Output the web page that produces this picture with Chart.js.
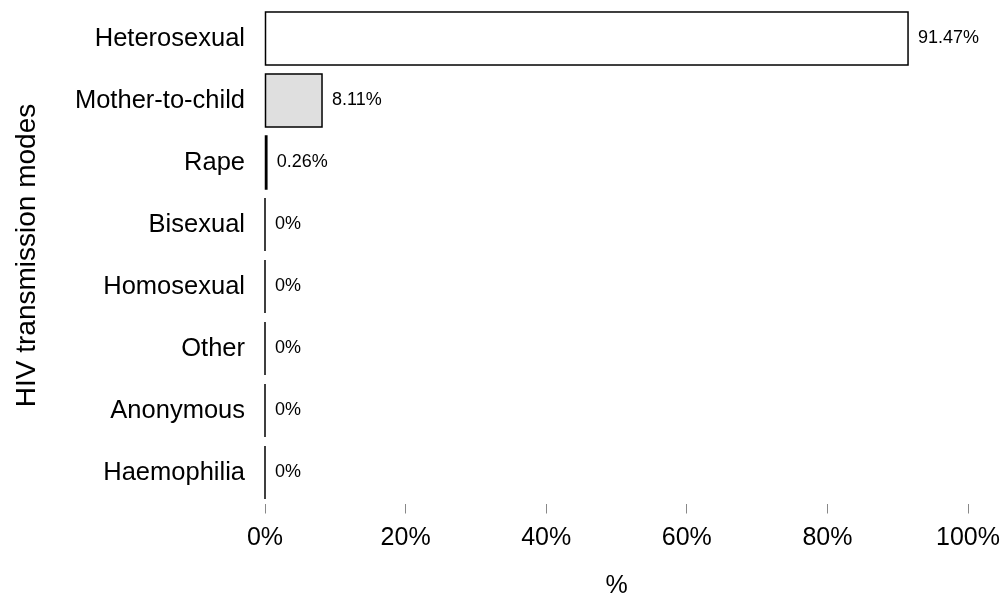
<!DOCTYPE html>
<html>
<head>
<meta charset="utf-8">
<script src="https://cdn.jsdelivr.net/npm/chart.js@4/dist/chart.umd.min.js"></script>
<style>
  html, body { margin: 0; padding: 0; background: #fff; }
  #wrap { width: 1003px; height: 594px; }
</style>
</head>
<body>
<div id="wrap"><canvas id="modesChart"></canvas></div>
<script>
// Modes de transmission et part des cas (%)
const modes = ['Heterosexual', 'Mother-to-child', 'Rape', 'Bisexual', 'Homosexual', 'Other', 'Anonymous', 'Haemophilia'];
const shares = [91.47, 8.11, 0.26, 0, 0, 0, 0, 0];
const fills = ['#ffffff', '#dfdfdf', '#2e2e2e', '#1a1a1a', '#1a1a1a', '#1a1a1a', '#1a1a1a', '#1a1a1a'];
const xTicks = [0, 20, 40, 60, 80, 100];

const FONT = "'Liberation Sans', Arial, sans-serif";

// contour noir de chaque barre, même quand la valeur vaut 0
const barOutlines = {
  id: 'barOutlines',
  afterDatasetsDraw(chart) {
    const ctx = chart.ctx;
    const meta = chart.getDatasetMeta(0);
    ctx.save();
    ctx.strokeStyle = '#000';
    ctx.lineWidth = 1.5;
    meta.data.forEach(bar => {
      const { x, y, base, height } = bar.getProps(['x', 'y', 'base', 'height'], true);
      ctx.strokeRect(base, y - height / 2, x - base, height);
    });
    ctx.restore();
  }
};

// étiquettes de valeur à droite des barres
const valueLabels = {
  id: 'valueLabels',
  afterDatasetsDraw(chart) {
    const ctx = chart.ctx;
    const meta = chart.getDatasetMeta(0);
    ctx.save();
    ctx.font = `18px ${FONT}`;
    ctx.fillStyle = '#000';
    ctx.textAlign = 'left';
    ctx.textBaseline = 'middle';
    meta.data.forEach((bar, i) => {
      ctx.fillText(`${shares[i]}%`, bar.x + 10, bar.y);
    });
    ctx.restore();
  }
};

new Chart(document.getElementById('modesChart').getContext('2d'), {
  type: 'bar',
  data: {
    labels: modes,
    datasets: [{
      data: shares,
      backgroundColor: fills,
      borderWidth: 0,
      barPercentage: 0.855,
      categoryPercentage: 1
    }]
  },
  options: {
    indexAxis: 'y',
    responsive: true,
    maintainAspectRatio: false,
    animation: false,
    layout: { padding: { top: 7.5, right: 35, bottom: 0, left: 0 } },
    plugins: {
      legend: { display: false },
      tooltip: { enabled: false }
    },
    scales: {
      x: {
        min: 0,
        max: 100,
        afterBuildTicks: scale => { scale.ticks = xTicks.map(v => ({ value: v })); },
        afterFit: scale => {
          scale.height = 90.5;
          scale.paddingLeft = 0;
          scale.paddingRight = 0;
        },
        border: { display: false },
        grid: { drawOnChartArea: false, drawTicks: true, tickLength: 10, color: '#888', lineWidth: 1 },
        ticks: {
          color: '#000',
          padding: 10,
          maxRotation: 0,
          font: { family: FONT, size: 25 },
          callback: v => `${v}%`
        },
        title: {
          display: true,
          text: '%',
          color: '#000',
          font: { family: FONT, size: 25, lineHeight: 0.64 },
          padding: { top: 0, bottom: 0 }
        }
      },
      y: {
        afterFit: scale => {
          scale.width = 265;
          scale.paddingTop = 0;
          scale.paddingBottom = 0;
        },
        border: { display: false },
        grid: { display: false, drawTicks: false },
        ticks: {
          color: '#000',
          padding: 20,
          font: { family: FONT, size: 25.5 }
        },
        title: {
          display: true,
          text: 'HIV transmission modes',
          color: '#000',
          font: { family: FONT, size: 28 },
          padding: { top: 10, bottom: 0 }
        }
      }
    }
  },
  plugins: [barOutlines, valueLabels]
});
</script>
</body>
</html>
